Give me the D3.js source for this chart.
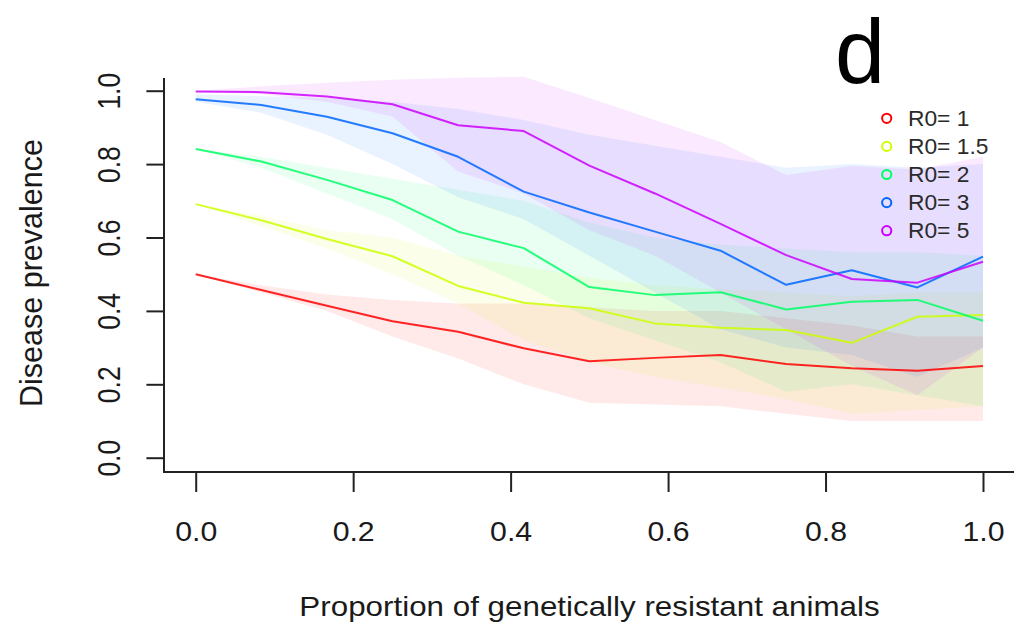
<!DOCTYPE html>
<html><head><meta charset="utf-8">
<script src="https://cdn.jsdelivr.net/npm/d3@7"></script>
<style>
html,body{margin:0;padding:0;background:#fff;}
text{font-family:"Liberation Sans",Arial,Helvetica,sans-serif;fill:#1a1a1a;}
</style></head>
<body>
<svg id="chart" width="1014" height="623"></svg>
<script>
// ---- data ----
const xValues = [0, 1/12, 2/12, 3/12, 4/12, 5/12, 6/12, 7/12, 8/12, 9/12, 10/12, 11/12, 1];
const seriesNames = ["R0= 1", "R0= 1.5", "R0= 2", "R0= 3", "R0= 5"];
const seriesColors = ["#FF0000", "#CCFF00", "#00FF66", "#0066FF", "#CC00FF"];

const meanR1   = [0.500, 0.457, 0.414, 0.372, 0.343, 0.298, 0.263, 0.272, 0.280, 0.255, 0.244, 0.237, 0.250];
const meanR15  = [0.691, 0.647, 0.596, 0.549, 0.468, 0.422, 0.407, 0.366, 0.354, 0.348, 0.313, 0.384, 0.389];
const meanR2   = [0.841, 0.807, 0.757, 0.702, 0.616, 0.571, 0.465, 0.443, 0.451, 0.404, 0.425, 0.430, 0.373];
const meanR3   = [0.977, 0.961, 0.929, 0.884, 0.820, 0.725, 0.668, 0.616, 0.564, 0.471, 0.511, 0.464, 0.548];
const meanR5   = [0.998, 0.996, 0.984, 0.963, 0.906, 0.890, 0.796, 0.720, 0.637, 0.552, 0.487, 0.477, 0.534];

const lowR1  = [0.500, 0.450, 0.400, 0.330, 0.270, 0.200, 0.150, 0.145, 0.140, 0.120, 0.100, 0.100, 0.100];
const highR1 = [0.500, 0.470, 0.445, 0.430, 0.420, 0.420, 0.410, 0.400, 0.400, 0.380, 0.360, 0.330, 0.330];
const lowR15  = [0.691, 0.630, 0.570, 0.500, 0.420, 0.320, 0.260, 0.220, 0.190, 0.160, 0.120, 0.130, 0.140];
const highR15 = [0.691, 0.660, 0.620, 0.600, 0.550, 0.520, 0.490, 0.470, 0.460, 0.450, 0.440, 0.450, 0.450];
const lowR2  = [0.841, 0.790, 0.720, 0.650, 0.550, 0.470, 0.380, 0.320, 0.260, 0.180, 0.200, 0.170, 0.140];
const highR2 = [0.841, 0.820, 0.790, 0.760, 0.730, 0.700, 0.640, 0.600, 0.580, 0.570, 0.560, 0.560, 0.550];
const lowR3  = [0.970, 0.940, 0.880, 0.800, 0.710, 0.650, 0.550, 0.450, 0.350, 0.300, 0.280, 0.220, 0.300];
const highR3 = [0.990, 0.985, 0.980, 0.970, 0.950, 0.920, 0.880, 0.850, 0.820, 0.790, 0.800, 0.790, 0.800];
const lowR5  = [1.000, 0.990, 0.970, 0.930, 0.780, 0.720, 0.620, 0.550, 0.450, 0.350, 0.250, 0.170, 0.300];
const highR5 = [1.000, 1.012, 1.022, 1.030, 1.035, 1.038, 0.980, 0.920, 0.860, 0.770, 0.795, 0.785, 0.820];

const yTicks = [0, 0.2, 0.4, 0.6, 0.8, 1.0];
const xTicks = [0, 0.2, 0.4, 0.6, 0.8, 1.0];
const xTitle = "Proportion of genetically resistant animals";
const yTitle = "Disease prevalence";
const panelLabel = "d";

const means = [meanR1, meanR15, meanR2, meanR3, meanR5];
const lows = [lowR1, lowR15, lowR2, lowR3, lowR5];
const highs = [highR1, highR15, highR2, highR3, highR5];

// ---- layout ----
const svg = d3.select("#chart");
const plotLeft = 164, plotBottom = 472, plotTop = 78, plotRight = 1014;
const x = d3.scaleLinear().domain([0, 1]).range([195.7, 983]);
const y = d3.scaleLinear().domain([0, 1]).range([457.7, 90.7]);

// bands
const area = d3.area().x((d, i) => x(xValues[i])).y0(d => y(d[0])).y1(d => y(d[1]));
means.forEach((m, s) => {
  const pts = lows[s].map((lo, i) => [lo, highs[s][i]]);
  svg.append("path").datum(pts)
    .attr("d", area)
    .attr("fill", seriesColors[s])
    .attr("fill-opacity", 0.085)
    .attr("stroke", "none");
});

// lines
const line = d3.line().x((d, i) => x(xValues[i])).y(d => y(d));
means.forEach((m, s) => {
  svg.append("path").datum(m)
    .attr("d", line)
    .attr("fill", "none")
    .attr("stroke", seriesColors[s])
    .attr("stroke-width", 2)
    .attr("stroke-opacity", 0.85)
    .attr("stroke-linejoin", "round");
});

// frame (L-shaped box)
svg.append("path")
  .attr("d", `M${plotLeft},${plotTop}V${plotBottom}H${plotRight}`)
  .attr("fill", "none").attr("stroke", "#222").attr("stroke-width", 2);

// y axis
const yAxis = svg.append("g").attr("transform", `translate(${plotLeft},0)`)
  .call(d3.axisLeft(y).tickValues(yTicks).tickSize(17.6).tickFormat(d3.format(".1f")));
yAxis.select(".domain").remove();
yAxis.selectAll(".tick line").attr("stroke", "#222").attr("stroke-width", 2);
yAxis.selectAll(".tick text")
  .attr("x", null).attr("dy", null)
  .attr("text-anchor", "middle")
  .attr("transform", "translate(-44,0) scale(1.2,1) rotate(-90)")
  .style("font-size", "26.5px").style("fill", "#1a1a1a")
  .style("font-family", "'Liberation Sans', Arial, sans-serif");

// x axis
const xAxis = svg.append("g").attr("transform", `translate(0,${plotBottom})`)
  .call(d3.axisBottom(x).tickValues(xTicks).tickSize(20).tickFormat(d3.format(".1f")));
xAxis.select(".domain").remove();
xAxis.selectAll(".tick line").attr("stroke", "#222").attr("stroke-width", 2);
xAxis.selectAll(".tick text")
  .attr("y", null).attr("dy", null)
  .attr("text-anchor", "middle")
  .attr("transform", "translate(0,69) scale(1.08,1)")
  .style("font-size", "28px").style("fill", "#1a1a1a")
  .style("font-family", "'Liberation Sans', Arial, sans-serif");

// titles
svg.append("text")
  .attr("transform", "translate(589.5,616) scale(1.12,1)")
  .attr("text-anchor", "middle")
  .style("font-size", "28px")
  .text(xTitle);
svg.append("text")
  .attr("transform", "translate(42,273) rotate(-90)")
  .attr("text-anchor", "middle")
  .style("font-size", "30.5px")
  .text(yTitle);

// panel label
svg.append("text")
  .attr("x", 835).attr("y", 83)
  .style("font-size", "90px").style("fill", "#000")
  .text(panelLabel);

// legend
const leg = svg.append("g");
seriesNames.forEach((name, s) => {
  const cy = 118.3 + s * 28.1;
  leg.append("circle").attr("cx", 886.7).attr("cy", cy).attr("r", 4.6)
    .attr("fill", "none").attr("stroke", seriesColors[s]).attr("stroke-width", 2);
  leg.append("text")
    .attr("transform", `translate(908,${cy + 7.5}) scale(1.06,1)`)
    .style("font-size", "21.5px").style("fill", "#2a2a2a")
    .text(name);
});
</script>
</body></html>
